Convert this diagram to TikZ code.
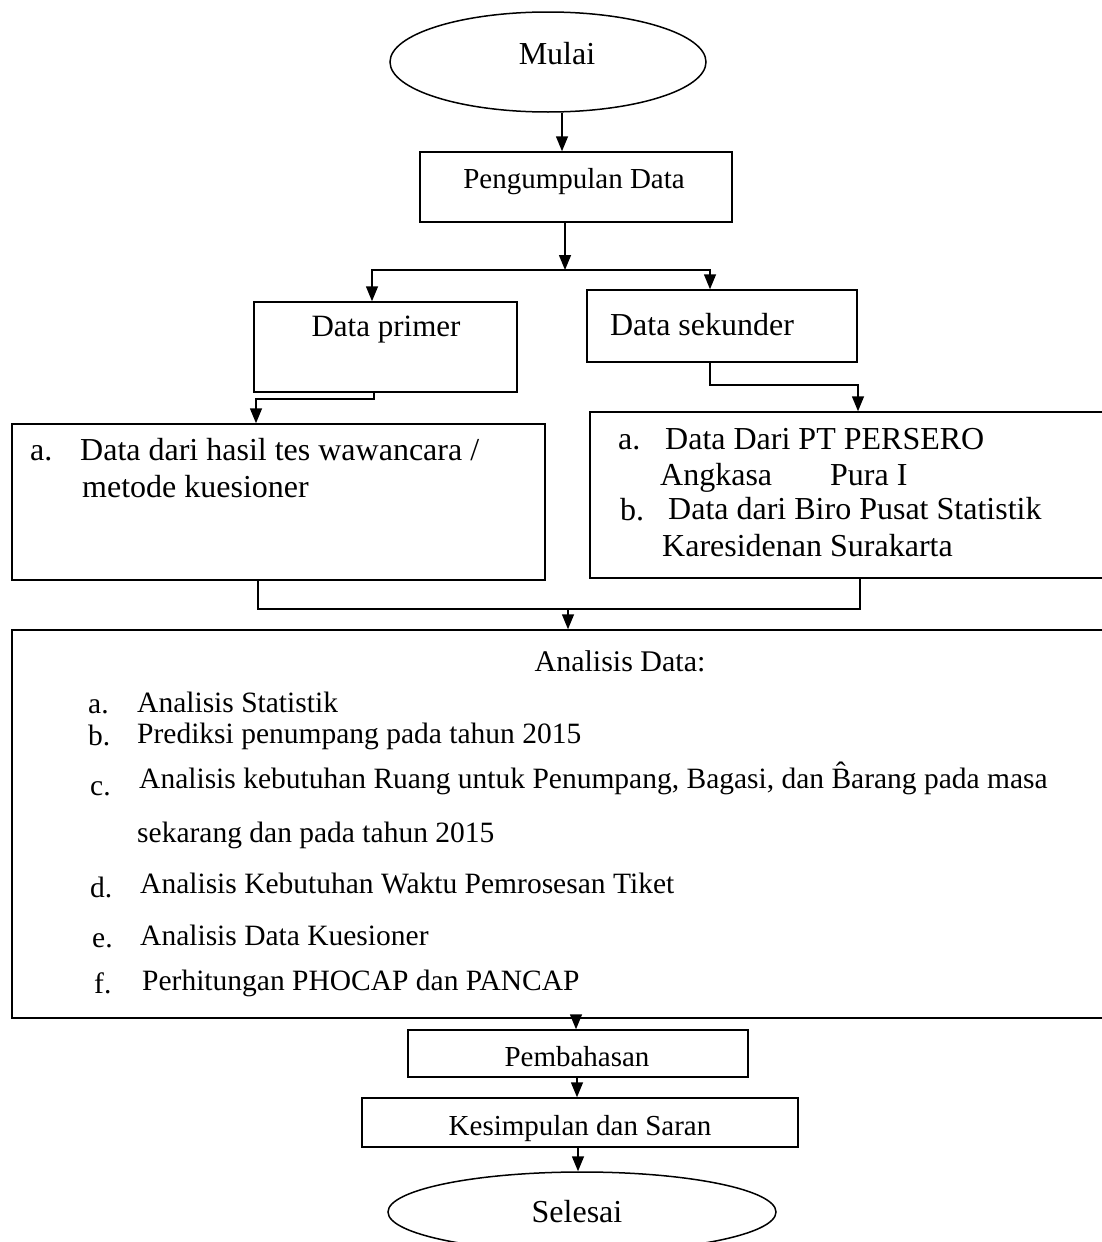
\documentclass[tikz,border=0pt]{standalone}
\usepackage{fontspec}
\setmainfont{Liberation Serif}
\usetikzlibrary{arrows.meta,shapes.geometric}
\newcommand{\fs}[1]{\fontsize{#1}{#1}\selectfont}
\begin{document}
\begin{tikzpicture}[x=1pt,y=-1pt,
  font=\fs{30},
  box/.style={draw, line width=1.5pt, rectangle, inner sep=0pt},
  term/.style={draw, line width=1.5pt, ellipse, inner sep=0pt},
  lbl/.style={inner sep=0pt},
  txt/.style={inner sep=0pt, anchor=base west},
  conn/.style={line width=1.5pt},
  arr/.style={conn, -{Triangle[length=15pt,width=12pt]}}]
\useasboundingbox (0,0) rectangle (1101,1242);

% nodes
\node[term, minimum width=316pt, minimum height=100pt] (mulai) at (548,62) {};
\node[lbl, font=\fs{32}] (mulaiT) at (557,54) {Mulai};

\node[box, minimum width=312pt, minimum height=70pt] (peng) at (576,187) {};
\node[lbl, font=\fs{29}] (pengT) at (574,182) {Pengumpulan Data};

\node[box, minimum width=263pt, minimum height=90pt] (prim) at (385.5,347) {};
\node[lbl, font=\fs{31}] (primT) at (386,330) {Data primer};

\node[box, minimum width=270pt, minimum height=72pt] (sek) at (722,326) {};
\node[lbl, font=\fs{32}] (sekT) at (702,325) {Data sekunder};

\node[box, minimum width=533pt, minimum height=156pt] (lbox) at (278.5,502) {};
\node[txt, font=\fs{32}] (l1a) at (30,460) {a.};
\node[txt, font=\fs{32}] (l1) at (80,460) {Data dari hasil tes wawancara /};
\node[txt, font=\fs{32}] (l2) at (82,497) {metode kuesioner};

\node[box, minimum width=514pt, minimum height=166pt] (rbox) at (847,495) {};
\node[txt, font=\fs{32}] (r1a) at (618,449) {a.};
\node[txt, font=\fs{32}] (r1) at (665,449) {Data Dari PT PERSERO};
\node[txt, font=\fs{32}] (r2) at (660,485) {Angkasa\hspace{58pt}Pura I};
\node[txt, font=\fs{32}] (r3a) at (620,520) {b.};
\node[txt, font=\fs{32}] (r3) at (668,519) {Data dari Biro Pusat Statistik};
\node[txt, font=\fs{32}] (r4) at (662,556) {Karesidenan Surakarta};

\node[box, minimum width=1092pt, minimum height=388pt] (ana) at (558,824) {};
\node[lbl, font=\fs{30}] (anaT) at (620,661) {Analisis Data:};
\begin{scope}[every node/.append style={font=\fs{29.5}}]
\node[txt] (a1a) at (88,713) {a.};
\node[txt] (a1) at (137,712) {Analisis Statistik};
\node[txt] (a2a) at (88,745) {b.};
\node[txt] (a2) at (137,743) {Prediksi penumpang pada tahun 2015};
\node[txt] (a3a) at (90,795) {c.};
\node[txt] (a3) at (139,788) {Analisis kebutuhan Ruang untuk Penumpang, Bagasi, dan \^{B}arang pada masa};
\node[txt] (a4) at (137,842) {sekarang dan pada tahun 2015};
\node[txt] (a5a) at (90,897) {d.};
\node[txt] (a5) at (140,893) {Analisis Kebutuhan Waktu Pemrosesan Tiket};
\node[txt] (a6a) at (92,947) {e.};
\node[txt] (a6) at (140,945) {Analisis Data Kuesioner};
\node[txt] (a7a) at (94,993) {f.};
\node[txt] (a7) at (142,990) {Perhitungan PHOCAP dan PANCAP};
\end{scope}

\node[box, minimum width=340pt, minimum height=47pt] (pem) at (578,1053.5) {};
\node[lbl, font=\fs{29}] (pemT) at (577,1057) {Pembahasan};

\node[box, minimum width=436pt, minimum height=49pt] (kes) at (580,1122.5) {};
\node[lbl, font=\fs{29}] (kesT) at (580,1129) {Kesimpulan dan Saran};

\node[term, minimum width=388pt, minimum height=80pt] (sel) at (582,1212) {};
\node[lbl, font=\fs{32}] (selT) at (577,1212) {Selesai};

% connectors
\draw[arr] ([xshift=14pt]mulai.south) -- ([xshift=-14pt]peng.north);
\coordinate (sp) at (565,270);
\draw[arr] ([xshift=-11pt]peng.south) -- (sp);
\draw[arr] (sp) -| ([xshift=-13.5pt]prim.north);
\draw[arr] (sp) -| ([xshift=-12pt]sek.north);
\draw[arr] ([xshift=-11.5pt]prim.south) -- ++(0,6) -| ([xshift=-22.5pt]lbox.north);
\draw[arr] ([xshift=-12pt]sek.south) -- ++(0,22) -| ([xshift=11pt]rbox.north);
\draw[conn] ([xshift=-20.5pt]lbox.south) -- ++(0,28) -| ([xshift=13pt]rbox.south);
\coordinate (mg) at (568,608);
\draw[arr] (mg) -- (mg |- ana.north);
\draw[arr] ([xshift=-2pt]pem.north |- ana.south) -- ([xshift=-2pt]pem.north);
\draw[arr] ([xshift=-1pt]pem.south) -- ([xshift=-3pt]kes.north);
\draw[arr] ([xshift=-2pt]kes.south) -- ([xshift=-4pt]sel.north);
\end{tikzpicture}
\end{document}
